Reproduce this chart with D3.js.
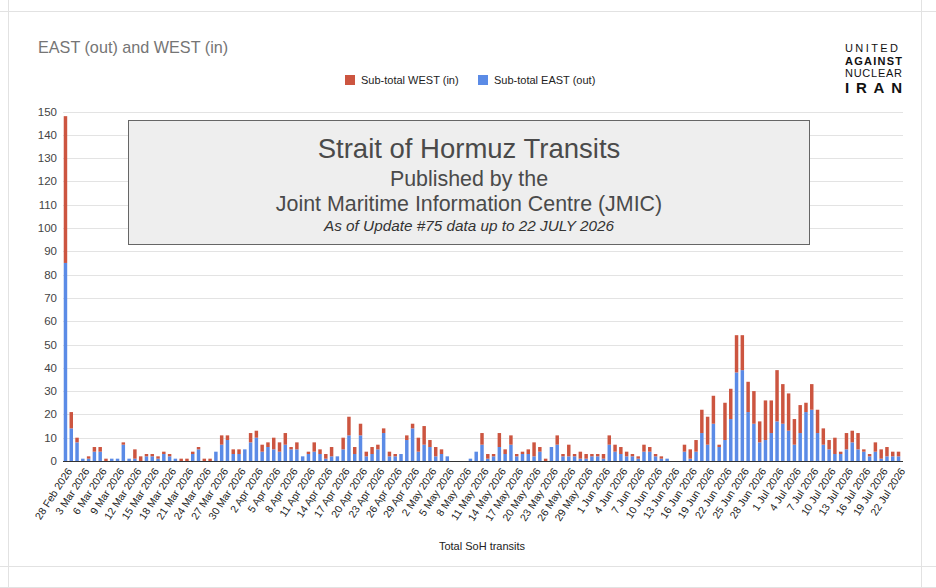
<!DOCTYPE html>
<html>
<head>
<meta charset="utf-8">
<script src="https://cdn.jsdelivr.net/npm/d3@7"></script>
<style>
  body { margin: 0; background: #fff; }
  svg { display: block; font-family: "Liberation Sans", Arial, sans-serif; }
</style>
</head>
<body>
<div id="chart"></div>
<script>
// daily transits, 28 Feb 2026 .. 22 Jul 2026
const startDay = new Date(2026, 1, 28);
const endDay = new Date(2026, 6, 23);

const eastOut = [
  85, 14, 8, 1, 1, 4, 4, 0, 1, 1, 7, 1, 1, 0, 2, 2, 1, 3, 2, 1,
  0, 0, 3, 5, 0, 0, 4, 7, 9, 3, 3, 5, 8, 10, 4, 6, 5, 4, 7, 5,
  5, 2, 3, 4, 3, 1, 2, 2, 5, 11, 3, 11, 2, 3, 5, 12, 2, 2, 3, 9,
  14, 4, 7, 6, 2, 3, 2, 0, 0, 0, 1, 4, 7, 1, 2, 6, 3, 7, 2, 3,
  3, 2, 4, 0, 6, 7, 2, 2, 2, 1, 1, 2, 2, 1, 7, 4, 3, 2, 2, 1,
  4, 4, 2, 1, 1, 0, 0, 4, 1, 4, 12, 7, 16, 6, 9, 18, 38, 39, 21, 16,
  8, 9, 12, 17, 16, 13, 7, 12, 21, 22, 12, 7, 5, 3, 3, 5, 8, 5, 4, 2,
  4, 1, 2, 2, 2
];

const westIn = [
  63, 7, 2, 0, 1, 2, 2, 1, 0, 0, 1, 0, 4, 2, 1, 1, 1, 1, 1, 0,
  1, 1, 1, 1, 1, 1, 0, 4, 2, 2, 2, 0, 4, 3, 3, 2, 5, 4, 5, 1,
  3, 0, 1, 4, 2, 2, 4, 0, 5, 8, 3, 5, 2, 3, 2, 2, 2, 1, 0, 2,
  2, 6, 8, 3, 4, 2, 0, 0, 0, 0, 0, 0, 5, 2, 1, 6, 2, 4, 1, 1,
  2, 6, 2, 1, 0, 4, 1, 5, 1, 3, 2, 1, 1, 2, 4, 3, 3, 2, 1, 1,
  3, 2, 1, 1, 0, 0, 0, 3, 4, 5, 10, 12, 12, 1, 16, 13, 16, 15, 13, 14,
  9, 17, 14, 22, 17, 16, 11, 12, 4, 11, 10, 7, 4, 7, 1, 7, 5, 7, 1, 1,
  4, 4, 4, 2, 2
];

const yTicks = [0, 10, 20, 30, 40, 50, 60, 70, 80, 90, 100, 110, 120, 130, 140, 150];
const seriesNames = ['Sub-total WEST (in)', 'Sub-total EAST (out)'];
const boxLines = [
  'Strait of Hormuz Transits',
  'Published by the',
  'Joint Maritime Information Centre (JMIC)',
  'As of Update #75 data up to 22 JULY 2026'
];
const logoLines = ['UNITED', 'AGAINST', 'NUCLEAR', 'IRAN'];

const W = 936, H = 588;
const colors = { east: '#5b8be6', west: '#cc5540' };

const days = d3.timeDay.range(startDay, endDay);
const fmt = d3.timeFormat('%-d %b %Y');
const rows = days.map((d, i) => ({ date: d, east: eastOut[i], west: westIn[i] }));

const svg = d3.select('#chart').append('svg')
  .attr('width', W)
  .attr('height', H);

// spreadsheet cell lines behind the chart
const cellRows = [11, 566, 587];
svg.selectAll('.cellrow')
  .data(cellRows)
  .enter().append('line')
  .attr('x1', 0).attr('x2', W)
  .attr('y1', d => d + 0.5).attr('y2', d => d + 0.5)
  .attr('stroke', '#e2e2e2');
svg.selectAll('.cellcol')
  .data([8, 921])
  .enter().append('line')
  .attr('x1', d => d + 0.5).attr('x2', d => d + 0.5)
  .attr('y1', 0).attr('y2', H)
  .attr('stroke', '#e2e2e2');

svg.append('rect')
  .attr('x', 9).attr('y', 12)
  .attr('width', 912).attr('height', 554)
  .attr('fill', '#fff');

const x = d3.scaleBand()
  .domain(rows.map(d => d.date))
  .range([62, 902])
  .paddingInner(0.4)
  .paddingOuter(0.3);

const y = d3.scaleLinear()
  .domain([0, 150])
  .range([461, 111.5]);

// gridlines
svg.append('g')
  .selectAll('line')
  .data(yTicks.filter(t => t > 0))
  .enter().append('line')
  .attr('x1', 63).attr('x2', 903)
  .attr('y1', d => Math.round(y(d)) + 0.5)
  .attr('y2', d => Math.round(y(d)) + 0.5)
  .attr('stroke', '#e3e3e3')
  .attr('stroke-width', 1);

// y axis labels
svg.append('g')
  .selectAll('text')
  .data(yTicks)
  .enter().append('text')
  .attr('x', 57)
  .attr('y', d => y(d) + 4)
  .attr('text-anchor', 'end')
  .attr('fill', '#444')
  .style('font-size', '11.5px')
  .text(d => d);

// stacked bars
const stack = d3.stack().keys(['east', 'west']);
const layers = stack(rows);

svg.append('g')
  .selectAll('g')
  .data(layers)
  .enter().append('g')
  .attr('fill', d => colors[d.key])
  .selectAll('rect')
  .data(d => d)
  .enter().append('rect')
  .attr('x', d => x(d.data.date))
  .attr('width', x.bandwidth())
  .attr('y', d => y(d[1]))
  .attr('height', d => y(d[0]) - y(d[1]));

// zero line
svg.append('line')
  .attr('x1', 63).attr('x2', 903)
  .attr('y1', 461.5).attr('y2', 461.5)
  .attr('stroke', '#333')
  .attr('stroke-width', 1);

// x tick labels, every third day
const tickDays = rows.filter((d, i) => i % 3 === 0).map(d => d.date);
svg.append('g')
  .selectAll('text')
  .data(tickDays)
  .enter().append('text')
  .attr('transform', d => `translate(${x(d) + x.bandwidth() / 2 + 4}, 469) rotate(-57)`)
  .attr('text-anchor', 'end')
  .attr('dy', '0.35em')
  .attr('fill', '#222')
  .style('font-size', '10.5px')
  .text(d => fmt(d));

svg.append('text')
  .attr('x', 482)
  .attr('y', 550)
  .attr('text-anchor', 'middle')
  .attr('fill', '#222')
  .style('font-size', '11px')
  .text('Total SoH transits');

// title
svg.append('text')
  .attr('x', 38)
  .attr('y', 53)
  .attr('fill', '#757575')
  .style('font-size', '16.2px')
  .text('EAST (out) and WEST (in)');

// legend
const legend = svg.append('g');
const legendItems = [
  { name: seriesNames[0], color: colors.west, x: 345 },
  { name: seriesNames[1], color: colors.east, x: 478 }
];
legendItems.forEach(it => {
  legend.append('rect')
    .attr('x', it.x).attr('y', 75)
    .attr('width', 10).attr('height', 10)
    .attr('fill', it.color);
  legend.append('text')
    .attr('x', it.x + 16).attr('y', 84)
    .attr('fill', '#222')
    .style('font-size', '11px')
    .text(it.name);
});

// annotation box
const box = svg.append('g');
box.append('rect')
  .attr('x', 128.5).attr('y', 120.5)
  .attr('width', 681).attr('height', 124)
  .attr('fill', '#eeeeee')
  .attr('stroke', '#666');

const boxStyle = [
  { size: 27.5, y: 157.5, italic: false },
  { size: 21.4, y: 185.5, italic: false },
  { size: 21.4, y: 210.5, italic: false },
  { size: 15.3, y: 230.5, italic: true }
];
boxLines.forEach((t, i) => {
  box.append('text')
    .attr('x', 469)
    .attr('y', boxStyle[i].y)
    .attr('text-anchor', 'middle')
    .attr('fill', i === 3 ? '#333' : '#4a4a4a')
    .style('font-size', boxStyle[i].size + 'px')
    .style('font-style', boxStyle[i].italic ? 'italic' : 'normal')
    .text(t);
});

// logo, stacked words
const logoStyle = [
  { y: 52, size: 11, weight: 400, len: 53 },
  { y: 64.5, size: 11, weight: 700, len: 57 },
  { y: 77, size: 11, weight: 400, len: 57 },
  { y: 93, size: 15, weight: 900, len: 57 }
];
const logo = svg.append('g').attr('fill', '#111');
logoLines.forEach((t, i) => {
  logo.append('text')
    .attr('x', 845)
    .attr('y', logoStyle[i].y)
    .attr('textLength', logoStyle[i].len)
    .attr('lengthAdjust', 'spacing')
    .style('font-size', logoStyle[i].size + 'px')
    .style('font-weight', logoStyle[i].weight)
    .text(t);
});
</script>
</body>
</html>
